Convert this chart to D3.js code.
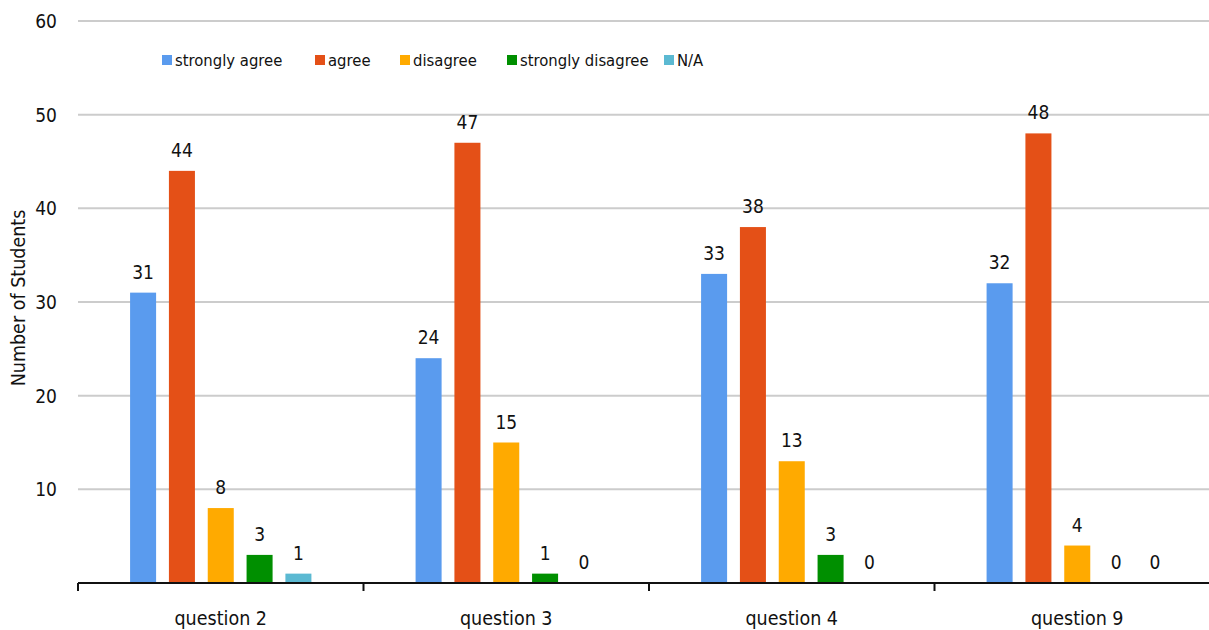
<!DOCTYPE html>
<html>
<head>
<meta charset="utf-8">
<script src="https://cdn.jsdelivr.net/npm/d3@7"></script>
<style>
  html, body { margin: 0; padding: 0; background: #fff; }
  svg { display: block; }
  text { font-family: "DejaVu Sans Condensed", "DejaVu Sans", sans-serif; fill: #111; }
</style>
</head>
<body>
<svg id="chart" width="1209" height="630"></svg>
<script>
// Survey responses per question
const questions = ["question 2", "question 3", "question 4", "question 9"];
const responses = ["strongly agree", "agree", "disagree", "strongly disagree", "N/A"];
const stronglyAgree = [31, 24, 33, 32];
const agree = [44, 47, 38, 48];
const disagree = [8, 15, 13, 4];
const stronglyDisagree = [3, 1, 3, 0];
const notApplicable = [1, 0, 0, 0];
const yTicks = [10, 20, 30, 40, 50, 60];
const colors = ["#5a9bee", "#e45017", "#ffaa00", "#008f00", "#5bb9d2"];

const seriesValues = [stronglyAgree, agree, disagree, stronglyDisagree, notApplicable];
const rows = questions.map((q, i) => ({
  question: q,
  values: responses.map((r, j) => ({ key: r, value: seriesValues[j][i] }))
}));

const svg = d3.select("#chart");
const plotLeft = 78, plotRight = 1220, plotTop = 21, plotBottom = 583;

const y = d3.scaleLinear().domain([0, 60]).range([plotBottom, plotTop]);
const x0 = d3.scaleBand().domain(questions).range([plotLeft, plotRight]).padding(0);
const bw = x0.bandwidth();
const x1 = d3.scaleBand().domain(responses)
  .range([bw * 0.16, bw * 0.84]).paddingInner(0.33).paddingOuter(0.165);
const color = d3.scaleOrdinal().domain(responses).range(colors);

// horizontal gridlines
svg.append("g").selectAll("line").data(yTicks).join("line")
  .attr("x1", plotLeft).attr("x2", 1209)
  .attr("y1", d => y(d)).attr("y2", d => y(d))
  .attr("stroke", "#cccccc").attr("stroke-width", 2);

// y tick labels
svg.append("g").selectAll("text").data(yTicks).join("text")
  .attr("x", 57).attr("y", d => y(d)).attr("dy", "0.36em")
  .attr("text-anchor", "end").attr("font-size", 19)
  .text(d => d);

// y axis title
svg.append("text")
  .attr("transform", `translate(25,${(plotTop + plotBottom) / 2 - 4}) rotate(-90)`)
  .attr("text-anchor", "middle").attr("font-size", 19.5)
  .text("Number of Students");

// bars
const groups = svg.append("g").selectAll("g").data(rows).join("g")
  .attr("transform", d => `translate(${x0(d.question)},0)`);

groups.selectAll("rect").data(d => d.values).join("rect")
  .attr("x", d => x1(d.key)).attr("width", x1.bandwidth())
  .attr("y", d => y(d.value)).attr("height", d => y(0) - y(d.value))
  .attr("fill", d => color(d.key));

groups.selectAll("text").data(d => d.values).join("text")
  .attr("x", d => x1(d.key) + x1.bandwidth() / 2)
  .attr("y", d => y(d.value) - 14)
  .attr("text-anchor", "middle").attr("font-size", 19)
  .text(d => d.value);

// x axis
const xAxis = svg.append("g");
xAxis.append("line")
  .attr("x1", plotLeft).attr("x2", 1209).attr("y1", plotBottom).attr("y2", plotBottom)
  .attr("stroke", "#111").attr("stroke-width", 2);
const boundaries = questions.map(q => x0(q));
xAxis.selectAll("line.tick").data(boundaries).join("line").attr("class", "tick")
  .attr("x1", d => d).attr("x2", d => d).attr("y1", plotBottom).attr("y2", plotBottom + 8)
  .attr("stroke", "#111").attr("stroke-width", 2);
xAxis.selectAll("text").data(questions).join("text")
  .attr("x", d => x0(d) + bw / 2).attr("y", 625)
  .attr("text-anchor", "middle").attr("font-size", 19.5)
  .text(d => d);

// legend
const legendX = [162, 315, 400, 507, 664];
const legend = svg.append("g").selectAll("g").data(responses).join("g")
  .attr("transform", (d, i) => `translate(${legendX[i]},55)`);
legend.append("rect").attr("width", 10).attr("height", 10).attr("fill", d => color(d));
legend.append("text").attr("x", 13).attr("y", 5).attr("dy", "0.36em")
  .attr("font-size", 16.5).text(d => d);
</script>
</body>
</html>
